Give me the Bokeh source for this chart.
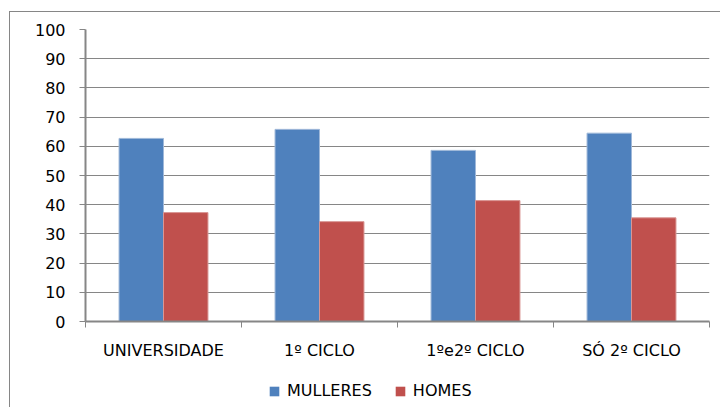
import numpy as np
from bokeh.plotting import figure
from bokeh.layouts import column
from bokeh.models import ColumnDataSource, FixedTicker, Legend, LegendItem, Range1d
from bokeh.embed import file_html
from bokeh.resources import INLINE

# Data: share (%) of women and men per education group
categories = ["UNIVERSIDADE", "1º CICLO", "1ºe2º CICLO", "SÓ 2º CICLO"]
mulleres = [62.7, 65.8, 58.6, 64.5]
homes = [37.3, 34.2, 41.4, 35.5]
series_names = ["MULLERES", "HOMES"]
y_ticks = [0, 10, 20, 30, 40, 50, 60, 70, 80, 90, 100]

BLUE = "#4F81BD"
RED = "#C0504D"
GREY = "#868686"
FONT = "DejaVu Sans"
FS = "16px"

n = len(categories)
centers = np.arange(n) + 0.5
bar_w = 0.285
src = ColumnDataSource(dict(
    xm=centers - bar_w / 2,
    xh=centers + bar_w / 2,
    mulleres=mulleres,
    homes=homes,
))

# ---- main chart -------------------------------------------------------
p = figure(
    width=710, height=360,
    x_range=Range1d(0, n), y_range=Range1d(0, 100),
    output_backend="svg", toolbar_location=None,
    min_border_left=75, min_border_right=11,
    min_border_top=17, min_border_bottom=51,
    background_fill_color="white", border_fill_color="white",
)
p.outline_line_color = None

p.vbar(x="xm", top="mulleres", width=bar_w, source=src,
       fill_color=BLUE, line_color="#9fb8d9", line_width=1)
p.vbar(x="xh", top="homes", width=bar_w, source=src,
       fill_color=RED, line_color="#d99694", line_width=1)

# y axis
p.yaxis.ticker = FixedTicker(ticks=y_ticks)
p.yaxis.axis_line_color = GREY
p.yaxis.axis_line_width = 2
p.yaxis.major_tick_line_color = GREY
p.yaxis.major_tick_out = 6
p.yaxis.major_tick_in = 0
p.yaxis.minor_tick_line_color = None
p.yaxis.major_label_standoff = 14
p.yaxis.major_label_text_font = FONT
p.yaxis.major_label_text_font_size = FS
p.yaxis.major_label_text_color = "black"

# x axis: labels at category centres, tick marks at category boundaries
p.xaxis.ticker = FixedTicker(ticks=list(centers), minor_ticks=list(range(n + 1)))
p.xaxis.major_label_overrides = {float(c): lab for c, lab in zip(centers, categories)}
p.xaxis.axis_line_color = GREY
p.xaxis.axis_line_width = 2
p.xaxis.major_tick_line_color = None
p.xaxis.minor_tick_line_color = GREY
p.xaxis.minor_tick_out = 6
p.xaxis.minor_tick_in = 0
p.xaxis.major_label_standoff = 13
p.xaxis.major_label_text_font = FONT
p.xaxis.major_label_text_font_size = FS
p.xaxis.major_label_text_color = "black"

p.xgrid.grid_line_color = None
p.ygrid.ticker = FixedTicker(ticks=y_ticks)
p.ygrid.grid_line_color = GREY
p.ygrid.grid_line_width = 1

# ---- legend strip under the chart ------------------------------------
lf = figure(
    width=710, height=35,
    x_range=Range1d(0, 1), y_range=Range1d(0, 1),
    x_axis_type=None, y_axis_type=None,
    output_backend="svg", toolbar_location=None,
    min_border=0, background_fill_color="white", border_fill_color="white",
)
lf.outline_line_color = None
lf.xgrid.visible = False
lf.ygrid.visible = False
# swatch renderers sit outside the visible range; only their legend entries show
swatch = ColumnDataSource(dict(x=[-5], top=[0]))
lm = lf.vbar(x="x", top="top", width=0.1, source=swatch, fill_color=BLUE, line_color=None)
lh = lf.vbar(x="x", top="top", width=0.1, source=swatch, fill_color=RED, line_color=None)

legend = Legend(
    items=[LegendItem(label=series_names[0], renderers=[lm]),
           LegendItem(label=series_names[1], renderers=[lh])],
    orientation="horizontal", location=(183, 7),
    glyph_width=12, glyph_height=12, label_standoff=7, spacing=22,
    label_text_font=FONT, label_text_font_size=FS, label_text_color="black",
    border_line_color=None, background_fill_alpha=0,
    margin=0, padding=0,
)
lf.add_layout(legend)

page = column(p, lf, spacing=0)
page.styles = {
    "margin-left": "9px", "margin-top": "11px",
    "border-left": f"1px solid {GREY}", "border-top": f"1px solid {GREY}",
}

open("out.html", "w").write(file_html(page, INLINE))
